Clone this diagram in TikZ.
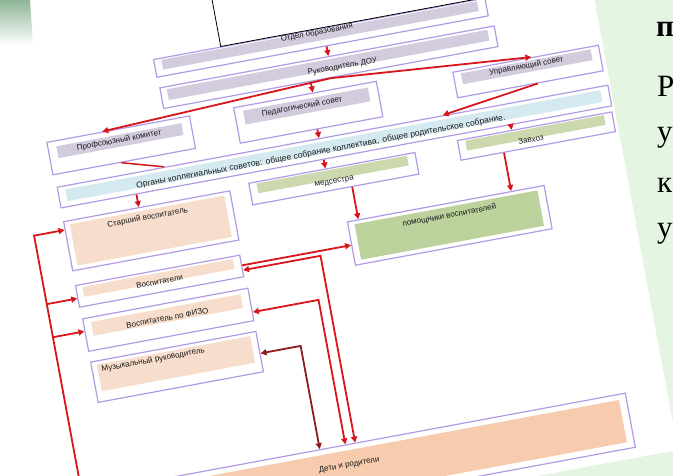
\documentclass[tikz,border=0pt]{standalone}
\usepackage{fontspec}
\setmainfont{Liberation Sans}
\newfontfamily\slidefont{Liberation Serif}
\usetikzlibrary{arrows.meta,calc}

\definecolor{slidebg}{HTML}{E4F5E1}
\definecolor{cornergreen}{HTML}{8DB595}
\definecolor{boxline}{HTML}{B29BE6}
\definecolor{lilac}{HTML}{D3CCDF}
\definecolor{paleblue}{HTML}{D5EAF0}
\definecolor{sage}{HTML}{CCD9AE}
\definecolor{moss}{HTML}{BCD29C}
\definecolor{peach}{HTML}{F7DDCB}
\definecolor{apricot}{HTML}{F7CCAE}
\definecolor{linkred}{HTML}{D8151B}
\definecolor{darkred}{HTML}{8E1C1C}

\tikzset{
  box/.style={draw=boxline, line width=1.2pt, fill=white, inner sep=0pt, anchor=north west},
  bar/.style={inner sep=0pt, anchor=north west},
  lbl/.style={inner sep=0pt, text=black!90, font=\fontsize{8}{9}\selectfont},
  longlbl/.style={lbl, anchor=base west, inner xsep=1.6pt, font=\fontsize{8.5}{9}\selectfont},
  link/.style={draw=linkred, line width=1.8pt, -{Triangle[length=6pt,width=6pt]}},
  twolink/.style={draw=linkred, line width=1.8pt, {Triangle[length=6pt,width=6pt]}-{Triangle[length=6pt,width=6pt]}},
  bigletter/.style={anchor=base west, inner sep=0pt, font=\slidefont\fontsize{31}{31}\selectfont}
}

\begin{document}
\begin{tikzpicture}[x=1pt,y=-1pt]
\useasboundingbox (0,0) rectangle (673,476);
\clip (0,0) rectangle (673,476);
\fill[slidebg] (0,0) rectangle (673,476);

\begin{scope}[rotate around={10.5:(340,240)}, transform shape]
\fill[white] (-300,-300) rectangle (634,508);

\node[box, minimum width=337pt, minimum height=18pt] (otdel) at (189,28) {};
\node[bar, fill=lilac, minimum width=321pt, minimum height=10pt] (otdelbar) at (197,30) {};
\node[lbl] (otdeltxt) at (355,32) {Отдел образования};
\draw[black, line width=0.8pt, fill=white] (258,-120) rectangle (570,28);

\node[box, minimum width=340pt, minimum height=21pt] (rukov) at (190,57) {};
\node[bar, fill=lilac, minimum width=326pt, minimum height=11pt] (rukovbar) at (197,60) {};
\node[lbl] (rukovtxt) at (374,70) {Руководитель ДОУ};

\node[box, minimum width=145pt, minimum height=33pt] (prof) at (69,90) {};
\node[bar, fill=lilac, minimum width=127pt, minimum height=12pt] (profbar) at (78,96) {};
\node[lbl] (proftxt) at (141,102) {Профсоюзный комитет};

\node[box, minimum width=145pt, minimum height=36pt] (ped) at (259,90) {};
\node[bar, fill=lilac, minimum width=127pt, minimum height=14pt] (pedbar) at (268,95) {};
\node[lbl] (pedtxt) at (327,102) {Педагогический совет};

\node[box, minimum width=148pt, minimum height=26pt] (upr) at (481,95) {};
\node[bar, fill=lilac, minimum width=132pt, minimum height=11pt] (uprbar) at (489,98) {};
\node[lbl] (uprtxt) at (555,103) {Управляющий совет};

\node[box, minimum width=560pt, minimum height=21pt] (organy) at (71,136) {};
\node[bar, fill=paleblue, minimum width=544pt, minimum height=12pt] (organybar) at (79,140) {};
\node[longlbl] (organytxta) at (148,152) {Органы коллегиальных советов:};
\node[longlbl] (organytxtb) at (organytxta.base east) {общее собрание коллектива,};
\node[longlbl] (organytxtc) at (organytxtb.base east) {общее родительское собрание.};

\node[box, minimum width=157pt, minimum height=20pt] (zav) at (473,163) {};
\node[bar, fill=sage, minimum width=141pt, minimum height=10pt] (zavbar) at (481,165) {};
\node[lbl] (zavtxt) at (546,176) {Завхоз};

\node[box, minimum width=169pt, minimum height=22pt] (med) at (260,167) {};
\node[bar, fill=sage, minimum width=153pt, minimum height=10pt] (medbar) at (268,169) {};
\node[lbl] (medtxt) at (345,182) {медсестра};

\node[box, minimum width=169pt, minimum height=50pt] (starsh) at (71,171) {};
\node[bar, fill=peach, minimum width=157pt, minimum height=42pt] (starshbar) at (77,175) {};
\node[lbl] (starshtxt) at (155,183) {Старший воспитатель};

\node[box, minimum width=200pt, minimum height=44pt] (pomosh) at (350,223) {};
\node[bar, fill=moss, minimum width=186pt, minimum height=36pt] (pomoshbar) at (357,227) {};
\node[lbl] (pomoshtxt) at (452,236) {помощники воспитателей};

\node[box, minimum width=167pt, minimum height=22pt] (vosp) at (71,236) {};
\node[bar, fill=peach, minimum width=153pt, minimum height=10pt] (vospbar) at (78,239) {};
\node[lbl] (vosptxt) at (155,248) {Воспитатели};

\node[box, minimum width=168pt, minimum height=33pt] (fizo) at (72,270) {};
\node[bar, fill=peach, minimum width=152pt, minimum height=14pt] (fizobar) at (80,275) {};
\node[lbl] (fizotxt) at (156,285) {Воспитатель по ФИЗО};

\node[box, minimum width=168pt, minimum height=41pt] (muz) at (72,314) {};
\node[bar, fill=peach, minimum width=156pt, minimum height=27pt] (muzbar) at (78,318) {};
\node[lbl, anchor=west] (muztxt) at (82,324) {Музыкальный руководитель};

\node[box, minimum width=521pt, minimum height=55pt] (deti) at (71,442) {};
\node[bar, fill=apricot, minimum width=507pt, minimum height=43pt] (detibar) at (78,448) {};
\node[lbl] (detitxt) at (308,463) {Дети и родители};

\coordinate (a1) at ($(otdel.south west)!.512!(otdel.south east)$);
\draw[link] (a1) -- ($(rukov.north west)!(a1)!(rukov.north east)$);
\coordinate (rk) at ($(rukov.south west)!.5!(rukov.south east)$);
\draw[link] (rk) -- ($(upr.north west)!.54!(upr.north east)$);
\draw[link] (rk) -- ($(prof.north west)!.39!(prof.north east)$);
\coordinate (a2) at ($(rukov.south west)!.44!(rukov.south east)$);
\draw[link] (a2) -- ($(ped.north west)!(a2)!(ped.north east)$);
\coordinate (a3) at ($(ped.south west)!.54!(ped.south east)$);
\draw[link] (a3) -- ($(organy.north west)!(a3)!(organy.north east)$);
\draw[link] ($(upr.south west)!.55!(upr.south east)$) -- ($(organy.north west)!.70!(organy.north east)$);
\draw[draw=linkred, line width=1.5pt] ($(prof.south west)!.48!(prof.south east)$) -- ($(organy.north west)!.195!(organy.north east)$);

\coordinate (a4) at ($(organy.south west)!.1375!(organy.south east)$);
\draw[link] (a4) -- ($(starsh.north west)!(a4)!(starsh.north east)$);
\coordinate (a5) at ($(organy.south west)!.477!(organy.south east)$);
\draw[link] (a5) -- ($(med.north west)!(a5)!(med.north east)$);
\coordinate (a6) at ($(organy.south west)!.816!(organy.south east)$);
\draw[link] (a6) -- ($(zav.north west)!(a6)!(zav.north east)$);
\coordinate (a7) at ($(med.south west)!.598!(med.south east)$);
\draw[link] (a7) -- ($(pomosh.north west)!(a7)!(pomosh.north east)$);
\coordinate (a8) at ($(zav.south west)!.28!(zav.south east)$);
\draw[link] (a8) -- ($(pomosh.north west)!(a8)!(pomosh.north east)$);
\coordinate (a9) at ($(vosp.north east)!.48!(vosp.south east)$);
\draw[link] (a9) -- ($(pomosh.north west)!(a9)!(pomosh.south west)$);

\coordinate (lt) at (40,180);
\coordinate (lb) at (40,470);
\draw[twolink] ($(starsh.north west)!(lt)!(starsh.south west)$) -- (lt) -- (lb) -- ($(deti.north west)!(lb)!(deti.south west)$);
\coordinate (v1) at ($(vosp.north west)!.59!(vosp.south west)$);
\draw[link] ($(lt)!(v1)!(lb)$) -- (v1);
\coordinate (f1) at ($(fizo.north west)!.39!(fizo.south west)$);
\draw[link] ($(lt)!(f1)!(lb)$) -- (f1);

\coordinate (b1) at (318,252);
\draw[twolink] ($(deti.north west)!(b1)!(deti.north east)$) -- (b1) -- ($(vosp.north east)!(b1)!(vosp.south east)$);
\coordinate (b2) at (308,295);
\draw[twolink] ($(deti.north west)!(b2)!(deti.north east)$) -- (b2) -- ($(fizo.north east)!(b2)!(fizo.south east)$);
\coordinate (b3) at (282,337);
\draw[twolink, draw=darkred] ($(deti.north west)!(b3)!(deti.north east)$) -- (b3) -- ($(muz.north east)!(b3)!(muz.south east)$);
\end{scope}

\shade[top color=cornergreen, bottom color=white] (0,0) -- (30,0) -- (33,45) -- (0,45) -- cycle;

\node[bigletter, font=\slidefont\bfseries\fontsize{31}{31}\selectfont] (w1) at (656,37) {п};
\node[bigletter] (w2) at (657,97) {Р};
\node[bigletter] (w3) at (657,142) {у};
\node[bigletter] (w4) at (657,193) {к};
\node[bigletter] (w5) at (657,238) {у};
\end{tikzpicture}
\end{document}
